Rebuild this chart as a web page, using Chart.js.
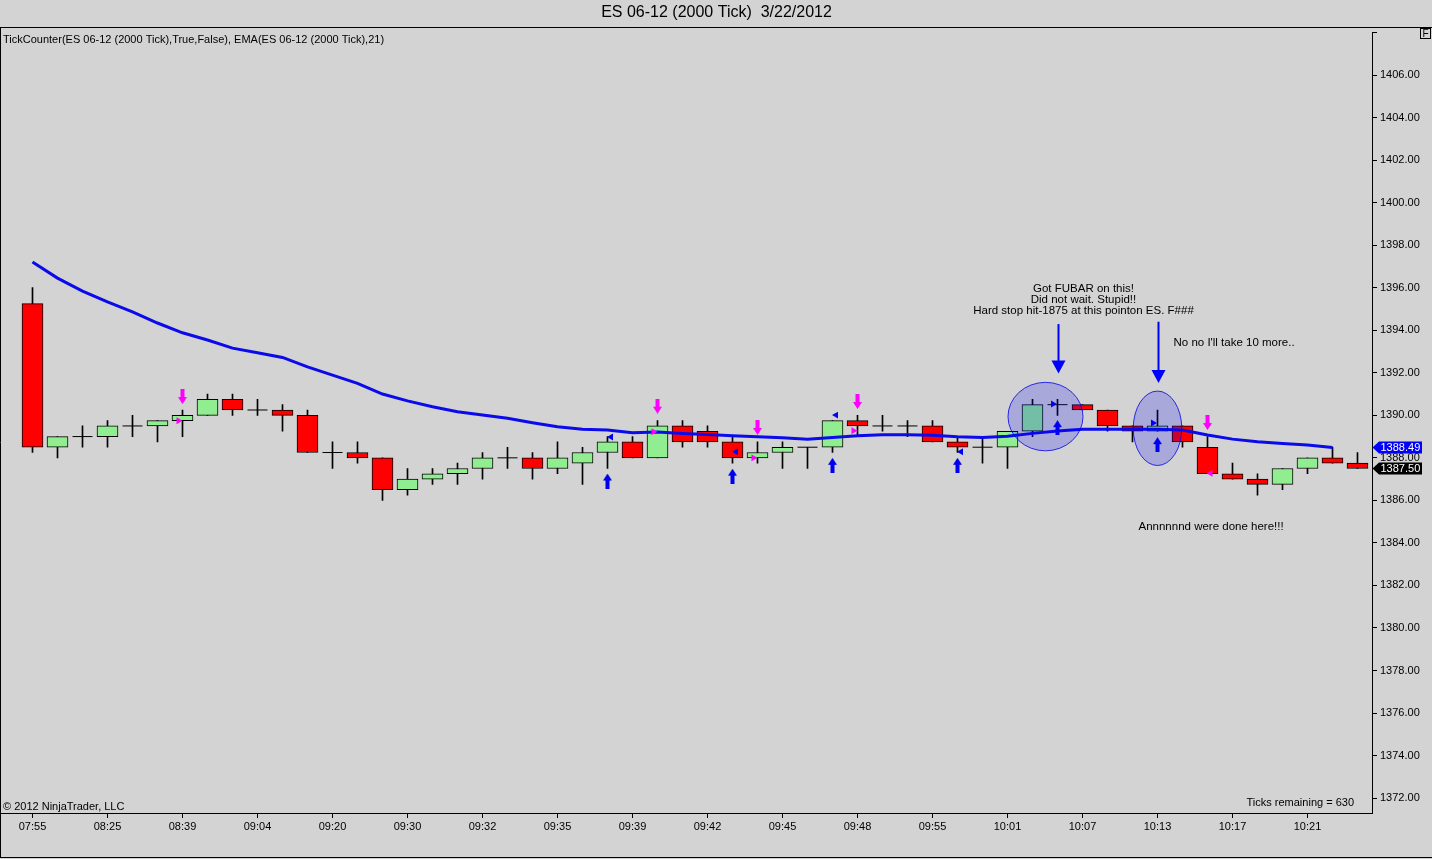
<!DOCTYPE html>
<html>
<head>
<meta charset="utf-8">
<script src="https://cdn.jsdelivr.net/npm/chart.js@4.4.1/dist/chart.umd.min.js"></script>
<style>
html,body{margin:0;padding:0;background:#D3D3D3;overflow:hidden}
canvas{display:block}
</style>
</head>
<body>
<canvas id="c" width="1432" height="859" style="width:1432px;height:859px"></canvas>
<script>
// ---------- DATA ----------
const chartTitle = 'ES 06-12 (2000 Tick)  3/22/2012';
const indicatorLabel = 'TickCounter(ES 06-12 (2000 Tick),True,False), EMA(ES 06-12 (2000 Tick),21)';
const copyrightText = '\u00A9 2012 NinjaTrader, LLC';
const ticksRemainingText = 'Ticks remaining = 630';

// x-axis labels, one every 3 bars
const timeLabels = ['07:55','08:25','08:39','09:04','09:20','09:30','09:32','09:35','09:39','09:42','09:45','09:48','09:55','10:01','10:07','10:13','10:17','10:21'];

const openP  = [1395.25,1388.5,1389.0,1389.0,1389.5,1389.5,1389.75,1390.0,1390.75,1390.25,1390.25,1390.0,1388.25,1388.25,1388.0,1386.5,1387.0,1387.25,1387.5,1388.0,1388.0,1387.5,1387.75,1388.25,1388.75,1388.0,1389.5,1389.25,1388.75,1388.0,1388.25,1388.5,1388.5,1389.75,1389.5,1389.5,1389.5,1388.75,1388.5,1388.5,1389.25,1390.5,1390.5,1390.25,1389.5,1389.25,1389.5,1388.5,1387.25,1387.0,1386.75,1387.5,1388.0,1387.75];
const highP  = [1396.0,1389.0,1389.5,1389.75,1390.0,1389.75,1390.25,1391.0,1391.0,1390.75,1390.5,1390.25,1388.75,1388.75,1388.0,1387.5,1387.5,1387.75,1388.25,1388.5,1388.25,1388.75,1388.5,1389.0,1389.0,1389.75,1389.75,1389.5,1389.0,1388.75,1388.75,1388.5,1389.75,1390.0,1390.0,1389.75,1389.75,1389.0,1389.0,1389.25,1390.75,1390.75,1390.5,1390.25,1389.5,1390.25,1389.5,1389.0,1387.75,1387.25,1387.5,1388.0,1388.5,1388.25];
const lowP   = [1388.25,1388.0,1388.5,1388.5,1389.0,1388.75,1389.0,1390.0,1390.0,1390.0,1389.25,1388.25,1387.5,1387.75,1386.0,1386.25,1386.75,1386.75,1387.0,1387.5,1387.0,1387.25,1386.75,1387.5,1388.0,1388.0,1388.5,1388.5,1387.75,1387.75,1387.5,1387.5,1388.25,1389.0,1389.25,1389.0,1388.75,1388.25,1387.75,1387.5,1389.0,1390.0,1390.25,1389.25,1388.75,1389.25,1388.5,1387.25,1387.0,1386.25,1386.5,1387.25,1387.75,1387.5];
const closeP = [1388.5,1389.0,1389.0,1389.5,1389.5,1389.75,1390.0,1390.75,1390.25,1390.25,1390.0,1388.25,1388.25,1388.0,1386.5,1387.0,1387.25,1387.5,1388.0,1388.0,1387.5,1388.0,1388.25,1388.75,1388.0,1389.5,1388.75,1388.75,1388.0,1388.25,1388.5,1388.5,1389.75,1389.5,1389.5,1389.5,1388.75,1388.5,1388.5,1389.25,1390.5,1390.5,1390.25,1389.5,1389.25,1389.5,1388.75,1387.25,1387.0,1386.75,1387.5,1388.0,1387.75,1387.5];

// EMA(21) values (last bar has none plotted)
const ema21 = [1397.21,1396.45,1395.84,1395.33,1394.86,1394.34,1393.88,1393.54,1393.16,1392.94,1392.72,1392.28,1391.89,1391.50,1391.00,1390.68,1390.40,1390.17,1390.01,1389.86,1389.65,1389.46,1389.35,1389.31,1389.18,1389.21,1389.15,1389.10,1389.04,1388.99,1388.94,1388.88,1388.96,1389.04,1389.08,1389.08,1389.06,1388.99,1388.96,1389.02,1389.15,1389.26,1389.34,1389.35,1389.35,1389.34,1389.31,1389.07,1388.88,1388.76,1388.68,1388.60,1388.49,null];

// signal markers
const downArrowBars   = [6,25,29,33,47];
const downArrowPrices = [1390.88,1390.43,1389.43,1390.65,1389.66];
const upArrowBars     = [23,28,32,37,41,45];
const upArrowPrices   = [1386.91,1387.14,1387.65,1387.65,1389.42,1388.62];
const pinkRightBars   = [6,25,29,33];
const pinkRightPrices = [1389.74,1389.23,1388.0,1389.27];
const pinkLeftBars    = [47];
const pinkLeftPrices  = [1387.27];
const blueLeftBars    = [23,28,32,37];
const blueLeftPrices  = [1388.98,1388.29,1390.01,1388.29];
const blueRightBars   = [41,45];
const blueRightPrices = [1390.53,1389.64];

// drawn objects (anchored in bar / price units)
const ellipseBars   = [40.52,45.0];
const ellipsePrices = [1389.94,1389.39];
const ellipseHalfBars   = [1.5,0.97];
const ellipseHalfPrices = [1.61,1.75];
const drawArrowBars = [41,45];
const drawArrowFrom = [1394.29,1394.40];
const drawArrowTo   = [1391.97,1391.52];
const noteBars   = [42.04,45.64,44.24];
const notePrices = [1395.97,1393.40,1384.76];
const noteAligns = ['center','left','left'];
const noteTexts  = [
  ['Got FUBAR on this!','Did not wait. Stupid!!','Hard stop hit-1875 at this pointon ES. F###'],
  ["No no I'll take 10 more.."],
  ['Annnnnnd were done here!!!']
];

// ---------- BUILD ----------
const FONT = "'Liberation Sans', Arial, Helvetica, sans-serif";
Chart.defaults.font.family = FONT;
Chart.defaults.color = '#000';

const n = openP.length;
const idx = openP.map((_, i) => i);
const isDoji = i => openP[i] === closeP[i];

const wickData = idx.map(i => ({x: i, y: [lowP[i], highP[i]]}));
const bodyIdx = idx.filter(i => !isDoji(i));
const bodyData = bodyIdx.map(i => ({x: i, y: [openP[i], closeP[i]]}));
const bodyColors = bodyIdx.map(i => closeP[i] > openP[i] ? '#90EE90' : '#FF0000');
const dojiData = idx.filter(isDoji).map(i => ({x: i, y: openP[i]}));
const emaData = idx.map(i => ({x: i, y: ema21[i]}));

function pts(bars, prices, dx) { return bars.map((b, k) => ({x: b + (dx || 0), y: prices[k]})); }

function arrowImage(color, down) {
  const c = document.createElement('canvas');
  c.width = 9; c.height = 15;
  const g = c.getContext('2d');
  g.fillStyle = color;
  g.beginPath();
  if (down) {
    g.moveTo(2.5,0); g.lineTo(6.5,0); g.lineTo(6.5,8); g.lineTo(9,8); g.lineTo(4.5,15); g.lineTo(0,8); g.lineTo(2.5,8);
  } else {
    g.moveTo(4.5,0); g.lineTo(9,7); g.lineTo(6.5,7); g.lineTo(6.5,15); g.lineTo(2.5,15); g.lineTo(2.5,7); g.lineTo(0,7);
  }
  g.closePath(); g.fill();
  return c;
}
const MAGENTA = '#FF00FF';
const BLUE = '#0000F0';

const markerBase = {type: 'scatter', showLine: false, order: 1, pointBorderWidth: 0};

const overlayPlugin = {
  id: 'overlay',
  afterDatasetsDraw(chart) {
    const {ctx, scales: {x, y}} = chart;
    // ellipses
    ellipseBars.forEach((b, k) => {
      const cx = x.getPixelForValue(b), cy = y.getPixelForValue(ellipsePrices[k]);
      const rx = Math.abs(x.getPixelForValue(b + ellipseHalfBars[k]) - cx);
      const ry = Math.abs(y.getPixelForValue(ellipsePrices[k] + ellipseHalfPrices[k]) - cy);
      ctx.save();
      ctx.beginPath();
      ctx.ellipse(cx, cy, rx, ry, 0, 0, Math.PI * 2);
      ctx.fillStyle = 'rgba(0,0,255,0.2)';
      ctx.fill();
      ctx.strokeStyle = 'rgba(0,0,235,0.8)';
      ctx.lineWidth = 1;
      ctx.stroke();
      ctx.restore();
    });
    // arrows
    drawArrowBars.forEach((b, k) => {
      const ax = Math.round(x.getPixelForValue(b)) + 0.5;
      const y0 = y.getPixelForValue(drawArrowFrom[k]);
      const y1 = y.getPixelForValue(drawArrowTo[k]);
      ctx.save();
      ctx.strokeStyle = '#0000FF'; ctx.fillStyle = '#0000FF'; ctx.lineWidth = 2;
      ctx.beginPath(); ctx.moveTo(ax, y0); ctx.lineTo(ax, y1 - 12); ctx.stroke();
      ctx.beginPath(); ctx.moveTo(ax - 7, y1 - 13); ctx.lineTo(ax + 7, y1 - 13); ctx.lineTo(ax, y1); ctx.closePath(); ctx.fill();
      ctx.restore();
    });
    // text notes
    ctx.save();
    ctx.font = '11.5px ' + FONT;
    ctx.fillStyle = '#000';
    ctx.textBaseline = 'middle';
    noteBars.forEach((b, k) => {
      const tx = x.getPixelForValue(b), ty = y.getPixelForValue(notePrices[k]);
      ctx.textAlign = noteAligns[k];
      noteTexts[k].forEach((line, j) => ctx.fillText(line, tx, ty + j * 11.4));
    });
    ctx.restore();
  },
  afterDraw(chart) {
    const {ctx, scales: {y}} = chart;
    ctx.save();
    ctx.strokeStyle = '#000'; ctx.lineWidth = 1;
    ctx.beginPath();
    ctx.moveTo(0, 27.5); ctx.lineTo(1432, 27.5);
    ctx.moveTo(0.5, 27); ctx.lineTo(0.5, 858);
    ctx.moveTo(0, 857.5); ctx.lineTo(1432, 857.5);
    ctx.stroke();
    // F box
    ctx.strokeRect(1420.5, 28.5, 10, 10);
    ctx.font = '10px ' + FONT; ctx.fillStyle = '#000'; ctx.textAlign = 'center'; ctx.textBaseline = 'middle';
    ctx.fillText('F', 1425.5, 34);
    // texts
    ctx.font = '11px ' + FONT; ctx.textAlign = 'left';
    ctx.fillText(indicatorLabel, 3, 39.5);
    ctx.fillText(copyrightText, 3, 806.5);
    ctx.textAlign = 'right';
    ctx.fillText(ticksRemainingText, 1354, 802.5);
    // price tags
    const tags = [[ema21[n - 2], '#0000FF'], [closeP[n - 1], '#000000']];
    tags.forEach(([v, col]) => {
      const ty = y.getPixelForValue(v);
      ctx.beginPath();
      ctx.moveTo(1372.5, ty);
      ctx.lineTo(1379, ty - 6);
      ctx.lineTo(1422, ty - 6);
      ctx.lineTo(1422, ty + 6);
      ctx.lineTo(1379, ty + 6);
      ctx.closePath();
      ctx.fillStyle = col; ctx.fill();
      ctx.fillStyle = '#FFFFFF';
      ctx.font = '11px ' + FONT; ctx.textAlign = 'left'; ctx.textBaseline = 'middle';
      ctx.fillText(v.toFixed(2), 1380.5, ty + 0.5);
    });
    ctx.restore();
  }
};

new Chart(document.getElementById('c'), {
  type: 'bar',
  data: {
    datasets: [
      {type: 'line', label: 'EMA(21)', data: emaData, borderColor: 'rgb(10,10,235)', borderWidth: 3, pointRadius: 0, tension: 0, spanGaps: false, order: 2},
      {...markerBase, label: 'sell', data: pts(downArrowBars, downArrowPrices), pointStyle: arrowImage(MAGENTA, true)},
      {...markerBase, label: 'buy', data: pts(upArrowBars, upArrowPrices), pointStyle: arrowImage(BLUE, false)},
      {...markerBase, label: 'pinkR', data: pts(pinkRightBars, pinkRightPrices, -0.16), pointStyle: 'triangle', rotation: 90, radius: 4, backgroundColor: MAGENTA},
      {...markerBase, label: 'pinkL', data: pts(pinkLeftBars, pinkLeftPrices, 0.12), pointStyle: 'triangle', rotation: -90, radius: 4, backgroundColor: MAGENTA},
      {...markerBase, label: 'blueL', data: pts(blueLeftBars, blueLeftPrices, 0.14), pointStyle: 'triangle', rotation: -90, radius: 4, backgroundColor: BLUE},
      {...markerBase, label: 'blueR', data: pts(blueRightBars, blueRightPrices, -0.18), pointStyle: 'triangle', rotation: 90, radius: 4, backgroundColor: BLUE},
      {type: 'scatter', label: 'doji', data: dojiData, pointStyle: 'line', radius: 10, borderColor: '#000', borderWidth: 1, order: 4},
      {type: 'bar', label: 'body', data: bodyData, backgroundColor: bodyColors, borderColor: '#000', borderWidth: 1, borderSkipped: false, barThickness: 21, grouped: false, order: 4},
      {type: 'bar', label: 'wick', data: wickData, backgroundColor: '#000', borderWidth: 0, barThickness: 1, grouped: false, order: 5}
    ]
  },
  options: {
    responsive: false,
    animation: false,
    devicePixelRatio: 1,
    events: [],
    layout: {autoPadding: false, padding: {left: 1, right: 0, top: 0, bottom: 0}},
    plugins: {
      legend: {display: false},
      tooltip: {enabled: false},
      title: {display: true, text: chartTitle, color: '#000', font: {size: 16, weight: 'normal', family: FONT}, padding: {top: 3, bottom: 10.3}}
    },
    scales: {
      x: {
        type: 'linear', position: 'bottom', min: -1.26, max: 53.58, offset: false,
        grid: {display: true, drawOnChartArea: false, drawTicks: true, tickLength: 5, color: '#000', offset: false},
        border: {display: true, color: '#000', width: 1},
        afterBuildTicks: s => { s.ticks = timeLabels.map((t, k) => ({value: k * 3})); },
        afterFit: s => { s.height = 46; s.paddingLeft = 0; s.paddingRight = 0; },
        ticks: {autoSkip: false, maxRotation: 0, padding: 2, color: '#000', font: {size: 11},
                callback: v => timeLabels[Math.round(v / 3)] || ''}
      },
      y: {
        type: 'linear', position: 'right', min: 1371.3, max: 1408,
        grid: {display: true, drawOnChartArea: false, drawTicks: true, tickLength: 5, color: '#000'},
        border: {display: true, color: '#000', width: 1},
        afterBuildTicks: s => { const t = []; for (let v = 1372; v <= 1408; v += 2) t.push({value: v}); s.ticks = t; },
        afterFit: s => { s.width = 60; s.paddingTop = 0; s.paddingBottom = 0; },
        ticks: {padding: 3, color: '#000', font: {size: 11},
                callback: v => v >= 1408 ? '' : Number(v).toFixed(2)}
      }
    }
  },
  plugins: [overlayPlugin]
});
</script>
</body>
</html>
